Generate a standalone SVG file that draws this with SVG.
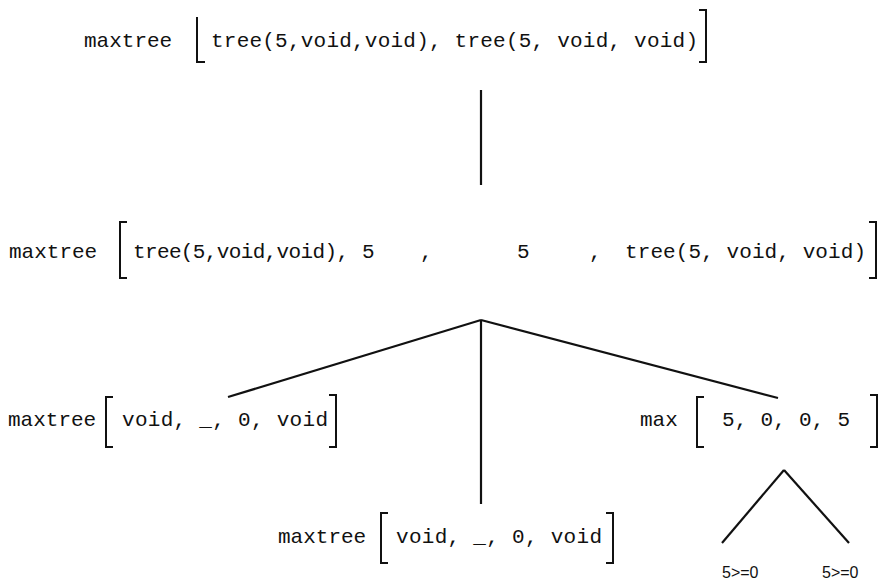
<svg xmlns="http://www.w3.org/2000/svg" width="881" height="584" viewBox="0 0 881 584">
  <style>
    .t { font-family: "Liberation Mono", "Courier New", monospace; font-size: 21px; fill: #111; }
    .s { font-family: "Liberation Sans", Arial, sans-serif; font-size: 16px; fill: #111; }
    .br { fill: none; stroke: #111; stroke-width: 2; }
    .ln { stroke: #111; stroke-width: 2.2; fill: none; }
  </style>
  <rect width="881" height="584" fill="#fff"/>

  <g id="connectors">
    <line class="ln" x1="481" y1="90" x2="481" y2="185"/>
    <line class="ln" x1="481" y1="320" x2="228" y2="397"/>
    <line class="ln" x1="481" y1="320" x2="481" y2="504"/>
    <line class="ln" x1="481" y1="320" x2="778" y2="398"/>
    <line class="ln" x1="784" y1="470" x2="722" y2="543"/>
    <line class="ln" x1="784" y1="470" x2="849" y2="543"/>
  </g>

  <g id="root">
    <text class="t" x="84" y="47">maxtree</text>
    <path class="br" d="M197,17 V62 H205"/>
    <text class="t" x="211" y="47" textLength="487" lengthAdjust="spacing">tree(5,void,void), tree(5, void, void)</text>
    <path class="br" d="M699,10 H706 V62 H699"/>
  </g>

  <g id="split">
    <text class="t" x="9" y="258">maxtree</text>
    <path class="br" d="M127,222 H120 V278 H127"/>
    <text class="t" x="133" y="258" textLength="216" lengthAdjust="spacing">tree(5,void,void),</text>
    <text class="t" x="362" y="258">5</text>
    <text class="t" x="420" y="258">,</text>
    <text class="t" x="517" y="258">5</text>
    <text class="t" x="589" y="258">,</text>
    <text class="t" x="625" y="258" textLength="241" lengthAdjust="spacing">tree(5, void, void)</text>
    <path class="br" d="M869,222 H876 V278 H869"/>
  </g>

  <g id="left-leaf">
    <text class="t" x="8" y="426">maxtree</text>
    <path class="br" d="M113,397 H106 V447 H113"/>
    <text class="t" x="122" y="426" textLength="206" lengthAdjust="spacing">void, _, 0, void</text>
    <path class="br" d="M329,395 H336 V447 H329"/>
  </g>

  <g id="max-node">
    <text class="t" x="640" y="426">max</text>
    <path class="br" d="M704,397 H697 V447 H704"/>
    <text class="t" x="722" y="426" textLength="128" lengthAdjust="spacing">5, 0, 0, 5</text>
    <path class="br" d="M870,395 H877 V447 H870"/>
  </g>

  <g id="middle-leaf">
    <text class="t" x="278" y="543">maxtree</text>
    <path class="br" d="M388,513 H381 V563 H388"/>
    <text class="t" x="396" y="543" textLength="206" lengthAdjust="spacing">void, _, 0, void</text>
    <path class="br" d="M606,513 H613 V563 H606"/>
  </g>

  <g id="cmp-left">
    <text class="s" x="722" y="578">5&gt;=0</text>
  </g>
  <g id="cmp-right">
    <text class="s" x="822" y="578">5&gt;=0</text>
  </g>
</svg>
